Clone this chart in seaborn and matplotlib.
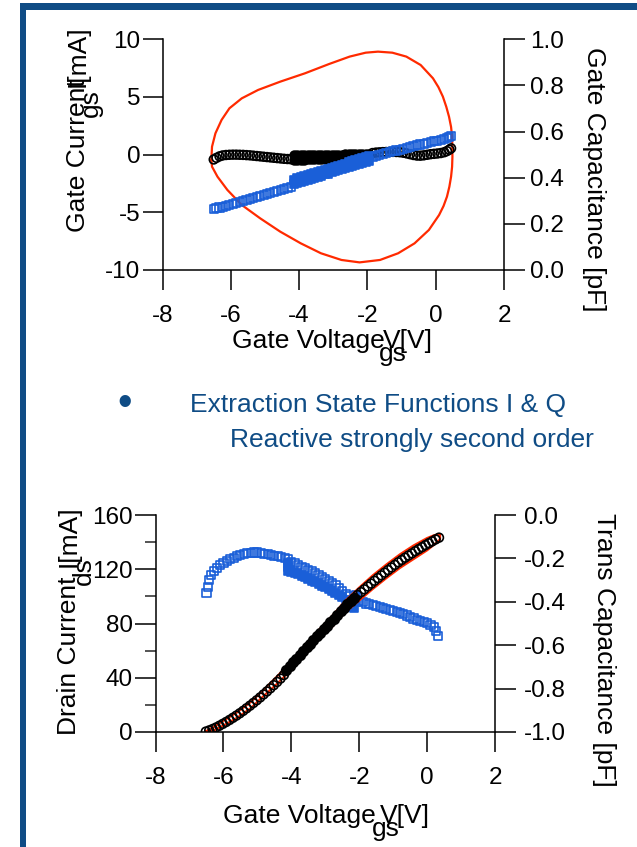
import matplotlib
matplotlib.use("Agg")
import matplotlib.pyplot as plt
from matplotlib.ticker import FormatStrFormatter, MultipleLocator
from matplotlib.patches import Rectangle
import seaborn as sns

# ---------------- upper panel: gate current and gate capacitance ----------------
# large-signal gate current loop (model), clockwise from the left turning point
loop_vgs = [-6.57, -6.55, -6.45, -6.27, -6.04, -5.68, -5.20, -4.55, -3.83, -3.12,
            -2.52, -2.05, -1.69, -1.27, -0.86, -0.44, -0.08, 0.08, 0.21, 0.31, 0.39, 0.45, 0.48,
            0.49, 0.48, 0.45, 0.40, 0.33, 0.23, 0.10, -0.20, -0.62, -1.10, -1.63, -2.23, -2.76,
            -3.36, -3.95, -4.55, -5.14, -5.68, -6.10, -6.39, -6.55]
loop_igs = [-0.46, 0.69, 1.85, 3.01, 4.02, 4.88, 5.61, 6.33, 7.05, 7.86,
            8.50, 8.84, 8.93, 8.84, 8.50, 7.77, 6.62, 5.85, 5.03, 4.15, 3.29, 2.40, 1.56,
            -0.17, -1.05, -1.91, -2.78, -3.64, -4.45, -5.23, -6.53, -7.69, -8.55, -9.13, -9.34, -9.13,
            -8.55, -7.69, -6.68, -5.52, -4.36, -3.06, -1.91, -1.04]

# extracted gate current (left axis) and gate capacitance (right axis)
vgs_low = [-6.50, -6.42, -6.33, -6.24, -6.14, -6.04, -5.94, -5.84, -5.74, -5.64, -5.54, -5.44,
           -5.34, -5.24, -5.14, -5.04, -4.94, -4.84, -4.74, -4.64, -4.54, -4.44, -4.34, -4.24]
igs_low = [-0.42, -0.28, -0.15, -0.07, -0.03, -0.01, 0.00, 0.00, -0.01, -0.02, -0.04, -0.06,
           -0.09, -0.12, -0.15, -0.18, -0.21, -0.24, -0.27, -0.30, -0.33, -0.36, -0.38, -0.40]
cgs_low = [0.263, 0.267, 0.271, 0.275, 0.279, 0.283, 0.288, 0.292, 0.296, 0.301, 0.305, 0.309,
           0.314, 0.318, 0.322, 0.327, 0.331, 0.335, 0.340, 0.344, 0.348, 0.353, 0.357, 0.361]

vgs_mid = [-4.15, -4.05, -3.95, -3.85, -3.75, -3.65, -3.55, -3.45, -3.35, -3.25, -3.15, -3.05,
           -2.95, -2.85, -2.75, -2.65, -2.55, -2.45, -2.35, -2.25, -2.15, -2.05, -1.95]
igs_mid_up = [-0.06, -0.05, -0.05, -0.04, -0.04, -0.03, -0.03, -0.02, -0.02, -0.01, -0.01, 0.00,
              0.00, 0.01, 0.01, 0.02, 0.02, 0.03, 0.04, 0.05, 0.06, 0.07, 0.08]
igs_mid_dn = [-0.46, -0.45, -0.44, -0.43, -0.42, -0.41, -0.40, -0.39, -0.38, -0.37, -0.36, -0.34,
              -0.33, -0.31, -0.30, -0.28, -0.26, -0.24, -0.22, -0.20, -0.18, -0.16, -0.14]
cgs_mid_up = [0.392, 0.397, 0.401, 0.406, 0.411, 0.415, 0.420, 0.424, 0.429, 0.434, 0.438, 0.443,
              0.448, 0.452, 0.457, 0.461, 0.466, 0.471, 0.475, 0.480, 0.485, 0.489, 0.494]
cgs_mid_dn = [0.372, 0.377, 0.381, 0.386, 0.391, 0.395, 0.400, 0.404, 0.409, 0.414, 0.418, 0.423,
              0.428, 0.432, 0.437, 0.441, 0.446, 0.451, 0.455, 0.460, 0.465, 0.469, 0.474]

vgs_high = [-1.85, -1.75, -1.65, -1.55, -1.45, -1.35, -1.25, -1.15, -1.05, -0.95, -0.85, -0.75,
            -0.65, -0.55, -0.45, -0.35, -0.25, -0.15, -0.05, 0.05, 0.15, 0.25, 0.33, 0.40, 0.45]
igs_high = [0.14, 0.18, 0.20, 0.22, 0.23, 0.24, 0.24, 0.23, 0.21, 0.17, 0.11, 0.04,
            -0.03, -0.08, -0.09, -0.06, -0.01, 0.04, 0.07, 0.10, 0.14, 0.21, 0.31, 0.43, 0.55]
cgs_high = [0.490, 0.494, 0.498, 0.502, 0.506, 0.510, 0.514, 0.518, 0.522, 0.526, 0.530, 0.533,
            0.537, 0.541, 0.544, 0.548, 0.551, 0.555, 0.558, 0.561, 0.565, 0.568, 0.572, 0.577, 0.581]

# ---------------- lower panel: drain current and trans-capacitance ----------------
ids_fit_v = [-6.52, -6.3, -6.0, -5.6, -5.2, -4.8, -4.4, -4.0, -3.6, -3.2,
             -2.8, -2.4, -2.0, -1.6, -1.2, -0.8, -0.4, 0.0, 0.2, 0.38]
ids_fit_up = [0.5, 3.5, 8.3, 14.5, 22.0, 31.5, 41.5, 52.5, 64.0, 75.0,
              85.5, 97.0, 106.5, 115.5, 123.5, 131.0, 137.5, 143.0, 145.0, 146.0]
ids_fit_dn = [0.0, 1.0, 4.8, 10.5, 17.5, 27.0, 36.0, 46.0, 57.0, 68.0,
              77.5, 88.5, 97.0, 105.5, 113.5, 121.0, 127.5, 134.0, 138.0, 142.0]

vds_low = [-6.52, -6.42, -6.32, -6.22, -6.12, -6.02, -5.92, -5.82, -5.72, -5.62, -5.52, -5.42,
           -5.32, -5.22, -5.12, -5.02, -4.92, -4.82, -4.72, -4.62, -4.52, -4.42, -4.32, -4.22]
ids_low = [0.3, 1.2, 2.2, 3.3, 4.6, 6.0, 7.4, 8.9, 10.5, 12.1, 13.8, 15.6,
           17.5, 19.4, 21.4, 23.4, 25.5, 27.7, 29.9, 32.2, 34.5, 36.9, 39.4, 42.0]
vds_mid = [-4.15, -4.05, -3.95, -3.85, -3.75, -3.65, -3.55, -3.45, -3.35, -3.25, -3.15,
           -3.05, -2.95, -2.85, -2.75, -2.65, -2.55, -2.45, -2.35, -2.25, -2.15]
ids_mid = [46.0, 48.7, 51.4, 54.1, 56.9, 59.6, 62.4, 65.1, 67.9, 70.6, 73.3,
           75.8, 78.3, 80.8, 83.4, 86.1, 88.9, 91.6, 94.1, 96.5, 98.6]
vds_high = [-2.05, -1.95, -1.85, -1.75, -1.65, -1.55, -1.45, -1.35, -1.25, -1.15, -1.05, -0.95,
            -0.85, -0.75, -0.65, -0.55, -0.45, -0.35, -0.25, -0.15, -0.05, 0.05, 0.15, 0.25, 0.35]
ids_high = [101.0, 103.1, 105.2, 107.3, 109.4, 111.5, 113.5, 115.5, 117.5, 119.4, 121.3, 123.2,
            125.1, 126.8, 128.5, 130.1, 131.7, 133.3, 134.8, 136.3, 137.8, 139.2, 140.6, 142.0, 143.3]

vct_low = [-6.50, -6.46, -6.42, -6.36, -6.28, -6.20, -6.10, -6.00, -5.90, -5.80, -5.70, -5.60, -5.50,
           -5.40, -5.30, -5.20, -5.10, -5.00, -4.90, -4.80, -4.70, -4.60, -4.50, -4.40, -4.30, -4.20]
ct_low = [-0.360, -0.330, -0.300, -0.275, -0.258, -0.245, -0.232, -0.222, -0.212, -0.204, -0.197,
          -0.190, -0.185, -0.180, -0.177, -0.174, -0.173, -0.173, -0.175, -0.178, -0.181, -0.184,
          -0.187, -0.190, -0.194, -0.199]
vct_upper = [-4.10, -4.00, -3.90, -3.80, -3.70, -3.60, -3.50, -3.40, -3.30, -3.20,
             -3.10, -3.00, -2.90, -2.80, -2.70, -2.60, -2.50, -2.40, -2.30, -2.20]
ct_upper = [-0.205, -0.215, -0.222, -0.230, -0.238, -0.245, -0.252, -0.260, -0.268, -0.276,
            -0.285, -0.295, -0.305, -0.315, -0.325, -0.337, -0.350, -0.362, -0.375, -0.390]
vct_lower = [-4.10, -4.10, -4.10, -4.00, -3.90, -3.80, -3.70, -3.60, -3.50, -3.40, -3.30, -3.20, -3.10,
             -3.00, -2.90, -2.80, -2.70, -2.60, -2.50, -2.40, -2.30, -2.20, -2.15, -2.10, -2.10]
ct_lower = [-0.220, -0.240, -0.258, -0.262, -0.268, -0.274, -0.280, -0.287, -0.294, -0.302, -0.310,
            -0.318, -0.326, -0.334, -0.342, -0.350, -0.358, -0.367, -0.378, -0.390, -0.405, -0.420,
            -0.430, -0.400, -0.370]
vct_high = [-2.00, -1.90, -1.80, -1.70, -1.60, -1.50, -1.40, -1.30, -1.20, -1.10, -1.00, -0.90, -0.80,
            -0.70, -0.60, -0.50, -0.40, -0.30, -0.20, -0.10, 0.00, 0.10, 0.20, 0.27, 0.33]
ct_high = [-0.395, -0.402, -0.408, -0.412, -0.415, -0.418, -0.422, -0.427, -0.432, -0.437, -0.442,
           -0.447, -0.452, -0.457, -0.463, -0.470, -0.477, -0.483, -0.489, -0.494, -0.499, -0.506,
           -0.517, -0.535, -0.556]

x_ticks = [-8, -6, -4, -2, 0, 2]
igs_ticks = [-10, -5, 0, 5, 10]
cgs_ticks = [0.0, 0.2, 0.4, 0.6, 0.8, 1.0]
ids_ticks = [0, 40, 80, 120, 160]
ct_ticks = [-1.0, -0.8, -0.6, -0.4, -0.2, 0.0]

bullet_line1 = "Extraction State Functions I & Q"
bullet_line2 = "Reactive strongly second order"

# ---------------- styling ----------------
sns.set_style("ticks")
plt.rcParams["font.family"] = ["Liberation Sans", "DejaVu Sans"]
plt.rcParams["axes.unicode_minus"] = False

RED = "#ff2a00"
BLUE = "#1a5fd8"
NAVY = "#0f4c85"
W, H = 637, 847
CIRC_S, SQ_S = 40, 34

fig = plt.figure(figsize=(W / 100, H / 100), dpi=100)


def fx(px):
    return px / W


def fy(py):
    return 1 - py / H


def style_pair(ax, axr, ylen=14.5, rpad=4.0):
    for s in ("top", "right"):
        ax.spines[s].set_visible(False)
    for s in ("top", "left", "bottom"):
        axr.spines[s].set_visible(False)
    for sp in (ax.spines["left"], ax.spines["bottom"], axr.spines["right"]):
        sp.set_linewidth(1.1)
        sp.set_color("black")
    ax.tick_params(axis="x", direction="out", length=14.5, width=1.1, pad=10.5,
                   labelsize=17.5, colors="black")
    ax.tick_params(axis="y", which="major", direction="out", length=ylen, width=1.1, pad=1.5,
                   labelsize=17.5, colors="black")
    axr.tick_params(axis="y", direction="out", length=15, width=1.1, pad=rpad,
                    labelsize=17.5, colors="black")
    ax.set_xlabel("")
    ax.set_ylabel("")
    axr.set_ylabel("")
    ax.grid(False)
    axr.grid(False)


def open_pts(ax, x, y, marker, color, s):
    sns.scatterplot(x=x, y=y, ax=ax, marker=marker, s=s, facecolor="none",
                    edgecolor=color, linewidth=1.2, legend=False, zorder=3)


def solid_pts(ax, x, y, marker, color, s):
    sns.scatterplot(x=x, y=y, ax=ax, marker=marker, s=s, color=color,
                    edgecolor=color, linewidth=1.2, legend=False, zorder=3)


# ---------------- upper panel ----------------
ax = fig.add_axes([fx(162.5), fy(270), fx(504 - 162.5), (270 - 39.3) / H])
axr = ax.twinx()

sns.lineplot(x=loop_vgs + loop_vgs[:1], y=loop_igs + loop_igs[:1], ax=ax, sort=False,
             estimator=None, color=RED, linewidth=1.6, zorder=2)
open_pts(ax, vgs_low, igs_low, "o", "black", CIRC_S)
solid_pts(ax, vgs_mid, igs_mid_up, "o", "black", CIRC_S)
solid_pts(ax, vgs_mid, igs_mid_dn, "o", "black", CIRC_S)
open_pts(ax, vgs_high, igs_high, "o", "black", CIRC_S)

open_pts(axr, vgs_low, cgs_low, "s", BLUE, SQ_S)
solid_pts(axr, vgs_mid, cgs_mid_up, "s", BLUE, SQ_S)
solid_pts(axr, vgs_mid, cgs_mid_dn, "s", BLUE, SQ_S)
open_pts(axr, vgs_high, cgs_high, "s", BLUE, SQ_S)

ax.set_xlim(-8, 2)
ax.set_ylim(-10, 10)
axr.set_ylim(0, 1)
ax.set_xticks(x_ticks)
ax.set_yticks(igs_ticks)
axr.set_yticks(cgs_ticks)
axr.yaxis.set_major_formatter(FormatStrFormatter("%.1f"))
style_pair(ax, axr)

# ---------------- lower panel ----------------
bx = fig.add_axes([fx(155.6), fy(732), fx(495 - 155.6), (732 - 515) / H])
bxr = bx.twinx()
bx.set_zorder(bxr.get_zorder() + 1)
bx.patch.set_visible(False)

sns.lineplot(x=ids_fit_v + ids_fit_v[::-1] + ids_fit_v[:1],
             y=ids_fit_up + ids_fit_dn[::-1] + ids_fit_up[:1],
             ax=bx, sort=False, estimator=None, color=RED, linewidth=1.6, zorder=2)
open_pts(bx, vds_low, ids_low, "o", "black", CIRC_S)
solid_pts(bx, vds_mid, ids_mid, "o", "black", CIRC_S + 8)
open_pts(bx, vds_high, ids_high, "o", "black", CIRC_S)

open_pts(bxr, vct_low, ct_low, "s", BLUE, SQ_S)
open_pts(bxr, vct_upper, ct_upper, "s", BLUE, SQ_S)
solid_pts(bxr, vct_lower, ct_lower, "s", BLUE, SQ_S + 6)
open_pts(bxr, vct_high, ct_high, "s", BLUE, SQ_S)

bx.set_xlim(-8, 2)
bx.set_ylim(0, 160)
bxr.set_ylim(-1, 0)
bx.set_xticks(x_ticks)
bx.set_yticks(ids_ticks)
bx.yaxis.set_minor_locator(MultipleLocator(20))
bxr.set_yticks(ct_ticks)
bxr.yaxis.set_major_formatter(FormatStrFormatter("%.1f"))
style_pair(bx, bxr, ylen=15, rpad=6.0)
bx.tick_params(axis="y", which="minor", direction="out", length=8, width=1.1)
bx.tick_params(axis="x", which="minor", length=0)

# ---------------- axis titles (subscripts set as separate runs) ----------------
LBL = 19
txt = dict(color="black", fontsize=LBL, rotation_mode="anchor")

fig.text(fx(85), fy(232), "Gate Current", rotation=90, ha="left", va="baseline", **txt)
fig.text(fx(85), fy(25), "I[mA]", rotation=90, ha="right", va="baseline", **txt)
fig.text(fx(98), fy(103), "gs", rotation=90, ha="center", va="baseline", **txt)

fig.text(fx(232), fy(348), "Gate Voltage", ha="left", va="baseline", **txt)
fig.text(fx(433), fy(348), "V[V]", ha="right", va="baseline", **txt)
fig.text(fx(393), fy(361), "gs", ha="center", va="baseline", **txt)

fig.text(fx(587), fy(47), "Gate Capacitance [pF]", rotation=270, ha="left", va="baseline", **txt)

fig.text(fx(76), fy(735), "Drain Current", rotation=90, ha="left", va="baseline", **txt)
fig.text(fx(76), fy(505), "I[mA]", rotation=90, ha="right", va="baseline", **txt)
fig.text(fx(91), fy(571), "ds", rotation=90, ha="center", va="baseline", **txt)

fig.text(fx(223), fy(823), "Gate Voltage", ha="left", va="baseline", **txt)
fig.text(fx(430), fy(823), "V[V]", ha="right", va="baseline", **txt)
fig.text(fx(386), fy(836), "gs", ha="center", va="baseline", **txt)

fig.text(fx(597), fy(513), "Trans Capacitance [pF]", rotation=270, ha="left", va="baseline", **txt)

# ---------------- bullet text ----------------
fig.text(fx(125), fy(404), "\u2022", ha="center", va="center", color=NAVY, fontsize=30)
fig.text(fx(190), fy(412), bullet_line1, ha="left", va="baseline", color=NAVY, fontsize=19)
fig.text(fx(230), fy(447), bullet_line2, ha="left", va="baseline", color=NAVY, fontsize=19)

# ---------------- frame ----------------
fig.add_artist(Rectangle((fx(20), fy(10)), 1 - fx(20), 7 / H, transform=fig.transFigure,
                         facecolor=NAVY, edgecolor="none"))
fig.add_artist(Rectangle((fx(20), 0), 6 / W, fy(3), transform=fig.transFigure,
                         facecolor=NAVY, edgecolor="none"))

fig.savefig("out.png", dpi=100, facecolor="white")
